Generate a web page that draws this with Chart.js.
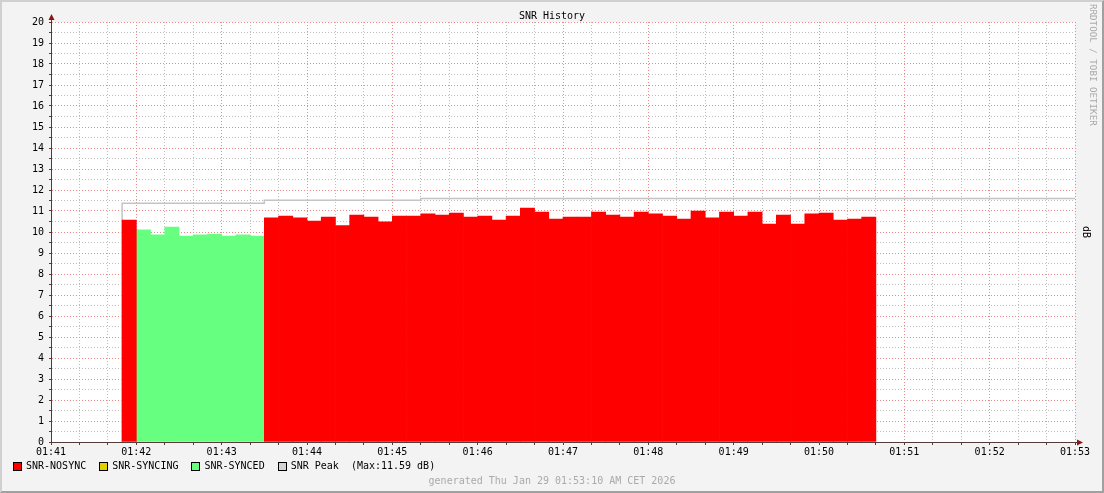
<!DOCTYPE html>
<html>
<head>
<meta charset="utf-8">
<title>SNR History</title>
<script src="https://cdn.jsdelivr.net/npm/chart.js@4.4.1/dist/chart.umd.min.js"></script>
<style>
    body { margin: 0; background: #f3f3f3; }
    #frame {
        position: absolute; left: 0; top: 0; width: 1104px; height: 493px;
        box-sizing: border-box;
        border-top: 2px solid #d0d0d0; border-left: 2px solid #d0d0d0;
        border-bottom: 2px solid #a0a0a0; border-right: 2px solid #a0a0a0;
    }
    #snrChart { position: absolute; left: 0; top: 0; }
    .txt {
        position: absolute; font-family: "DejaVu Sans Mono", monospace;
        font-size: 10px; line-height: 12px; white-space: pre; color: #000;
    }
    #title { left: 0; width: 1104px; top: 10px; text-align: center; }
    #footer { left: 0; width: 1104px; top: 475px; text-align: center; color: #aaaaaa; }
    #watermark { left: 1087px; top: 4px; font-size: 9.2px; color: #aaaaaa; writing-mode: vertical-rl; }
    #unit { left: 1080px; top: 226px; writing-mode: vertical-rl; }
    #legend { left: 13px; top: 460px; display: flex; align-items: center; }
    .item { display: flex; align-items: center; margin-right: 13px; }
    .box { width: 9px; height: 9px; box-sizing: border-box; border: 1px solid #000; margin-right: 4px; }
</style>
</head>
<body>
<div id="frame"></div>
<canvas id="snrChart" width="1104" height="493"></canvas>
<div class="txt" id="title">SNR History</div>
<div class="txt" id="watermark">RRDTOOL / TOBI OETIKER</div>
<div class="txt" id="unit">dB</div>
<div class="txt" id="legend"></div>
<div class="txt" id="footer">generated Thu Jan 29 01:53:10 AM CET 2026</div>
<script>
// Samples every 10 seconds (start of each interval)
const sampleTimes = [
    '01:41:50', '01:42:00', '01:42:10', '01:42:20', '01:42:30', '01:42:40', '01:42:50',
    '01:43:00', '01:43:10', '01:43:20', '01:43:30', '01:43:40', '01:43:50',
    '01:44:00', '01:44:10', '01:44:20', '01:44:30', '01:44:40', '01:44:50',
    '01:45:00', '01:45:10', '01:45:20', '01:45:30', '01:45:40', '01:45:50',
    '01:46:00', '01:46:10', '01:46:20', '01:46:30', '01:46:40', '01:46:50',
    '01:47:00', '01:47:10', '01:47:20', '01:47:30', '01:47:40', '01:47:50',
    '01:48:00', '01:48:10', '01:48:20', '01:48:30', '01:48:40', '01:48:50',
    '01:49:00', '01:49:10', '01:49:20', '01:49:30', '01:49:40', '01:49:50',
    '01:50:00', '01:50:10', '01:50:20', '01:50:30'
];

const snrNosync = [
    10.57, null, null, null, null, null, null, null, null, null,
    10.67, 10.76, 10.67,
    10.52, 10.71, 10.30, 10.81, 10.71, 10.48,
    10.76, 10.76, 10.86, 10.81, 10.90, 10.71,
    10.76, 10.57, 10.76, 11.14, 10.95, 10.62,
    10.71, 10.71, 10.95, 10.81, 10.71, 10.95,
    10.86, 10.76, 10.62, 11.00, 10.67, 10.95,
    10.76, 10.95, 10.38, 10.81, 10.38, 10.86,
    10.90, 10.57, 10.62, 10.71
];

const snrSyncing = sampleTimes.map(() => null);

const snrSynced = [
    null, 10.10, 9.86, 10.24, 9.81, 9.86, 9.90, 9.81, 9.86, 9.81,
    null, null, null,
    null, null, null, null, null, null,
    null, null, null, null, null, null,
    null, null, null, null, null, null,
    null, null, null, null, null, null,
    null, null, null, null, null, null,
    null, null, null, null, null, null,
    null, null, null, null
];

// Running peak (step line)
const peakTimes = ['01:41:50', '01:41:50', '01:43:30', '01:45:20', '01:53:00'];
const peakValues = [0, 11.37, 11.51, 11.59, 11.59];
const peakMax = 11.59;

const xTickLabels = ['01:41', '01:42', '01:43', '01:44', '01:45', '01:46', '01:47',
    '01:48', '01:49', '01:50', '01:51', '01:52', '01:53'];

const seriesNames = ['SNR-NOSYNC', 'SNR-SYNCING', 'SNR-SYNCED', 'SNR Peak'];
const seriesColors = ['#ff0000', '#e0d000', '#66ff80', '#d3d3d3'];

const sampleStep = 10;
const majorGrid = '#ec8a8a';
const minorGrid = '#bdbdbd';
const axisColor = '#553a3a';
const arrowColor = '#8b1414';
const monoFont = { family: '"DejaVu Sans Mono", monospace', size: 10 };

function toSec(t) {
    const [h, m, s] = t.split(':').map(Number);
    return (h * 3600 + m * 60 + s) - (1 * 3600 + 41 * 60);
}

function barPoints(values) {
    return sampleTimes.map((t, i) => ({ x: toSec(t) + sampleStep / 2, y: values[i] }));
}

function isMajorX(c) {
    return c.tick && c.tick.value % 60 === 0;
}

function isMajorY(c) {
    return c.tick && Number.isInteger(c.tick.value);
}

// white plot background + axis arrows
const plotDecor = {
    id: 'plotDecor',
    beforeDraw(chart) {
        const { ctx, chartArea: a } = chart;
        ctx.save();
        ctx.fillStyle = '#ffffff';
        ctx.fillRect(a.left, a.top, a.right - a.left, a.bottom - a.top);
        ctx.restore();
    },
    afterDraw(chart) {
        const { ctx, chartArea: a } = chart;
        const lx = Math.round(a.left) + 0.5;
        const by = Math.round(a.bottom) + 0.5;
        ctx.save();
        ctx.strokeStyle = axisColor;
        ctx.lineWidth = 1;
        ctx.beginPath();
        ctx.moveTo(lx, a.top);
        ctx.lineTo(lx, a.top - 4);
        ctx.moveTo(a.right, by);
        ctx.lineTo(a.right + 3, by);
        ctx.stroke();
        ctx.fillStyle = arrowColor;
        ctx.beginPath();
        ctx.moveTo(lx, a.top - 8);
        ctx.lineTo(lx - 3, a.top - 2);
        ctx.lineTo(lx + 3, a.top - 2);
        ctx.closePath();
        ctx.fill();
        ctx.beginPath();
        ctx.moveTo(a.right + 8, by);
        ctx.lineTo(a.right + 2, by - 3);
        ctx.lineTo(a.right + 2, by + 3);
        ctx.closePath();
        ctx.fill();
        ctx.restore();
    }
};

const ctx = document.getElementById('snrChart').getContext('2d');
new Chart(ctx, {
    type: 'bar',
    data: {
        datasets: [
            {
                label: seriesNames[0], data: barPoints(snrNosync),
                backgroundColor: seriesColors[0], borderWidth: 0,
                grouped: false, barPercentage: 1, categoryPercentage: 1, order: 1
            },
            {
                label: seriesNames[1], data: barPoints(snrSyncing),
                backgroundColor: seriesColors[1], borderWidth: 0,
                grouped: false, barPercentage: 1, categoryPercentage: 1, order: 1
            },
            {
                label: seriesNames[2], data: barPoints(snrSynced),
                backgroundColor: seriesColors[2], borderWidth: 0,
                grouped: false, barPercentage: 1, categoryPercentage: 1, order: 1
            },
            {
                type: 'line', label: seriesNames[3],
                data: peakTimes.map((t, i) => ({ x: toSec(t), y: peakValues[i] })),
                borderColor: '#c4c4c4', borderWidth: 1.5, stepped: 'before',
                pointRadius: 0, fill: false, order: 2
            }
        ]
    },
    options: {
        responsive: false,
        devicePixelRatio: 1,
        animation: false,
        layout: { padding: { left: 0, right: 29, top: 22, bottom: 35 } },
        plugins: { legend: { display: false }, tooltip: { enabled: false }, title: { display: false } },
        scales: {
            x: {
                type: 'linear', min: 0, max: 720, offset: false,
                afterFit: s => { s.height = 16; },
                border: { color: axisColor, width: 1, dash: [1, 2] },
                grid: {
                    offset: false,
                    color: c => isMajorX(c) ? majorGrid : minorGrid,
                    tickColor: axisColor, tickLength: 3
                },
                ticks: {
                    stepSize: 20, autoSkip: false, maxRotation: 0, padding: 1,
                    color: '#000', font: monoFont,
                    callback: v => v % 60 === 0 ? xTickLabels[v / 60] : ''
                }
            },
            y: {
                min: 0, max: 20,
                afterFit: s => { s.width = 51; },
                border: { color: axisColor, width: 1, dash: [1, 2] },
                grid: {
                    color: c => isMajorY(c) ? majorGrid : minorGrid,
                    tickColor: axisColor, tickLength: 2
                },
                ticks: {
                    stepSize: 0.5, autoSkip: false, maxTicksLimit: 100, padding: 5,
                    color: '#000', font: monoFont,
                    callback: v => Number.isInteger(v) ? String(v) : ''
                }
            }
        }
    },
    plugins: [plotDecor]
});

// legend below the plot
const legend = document.getElementById('legend');
seriesNames.forEach((name, i) => {
    const item = document.createElement('div');
    item.className = 'item';
    const box = document.createElement('span');
    box.className = 'box';
    box.style.background = seriesColors[i];
    const label = document.createElement('span');
    label.textContent = i === 3 ? `${name}  (Max:${peakMax.toFixed(2)} dB)` : name;
    item.appendChild(box);
    item.appendChild(label);
    legend.appendChild(item);
});
</script>
</body>
</html>
